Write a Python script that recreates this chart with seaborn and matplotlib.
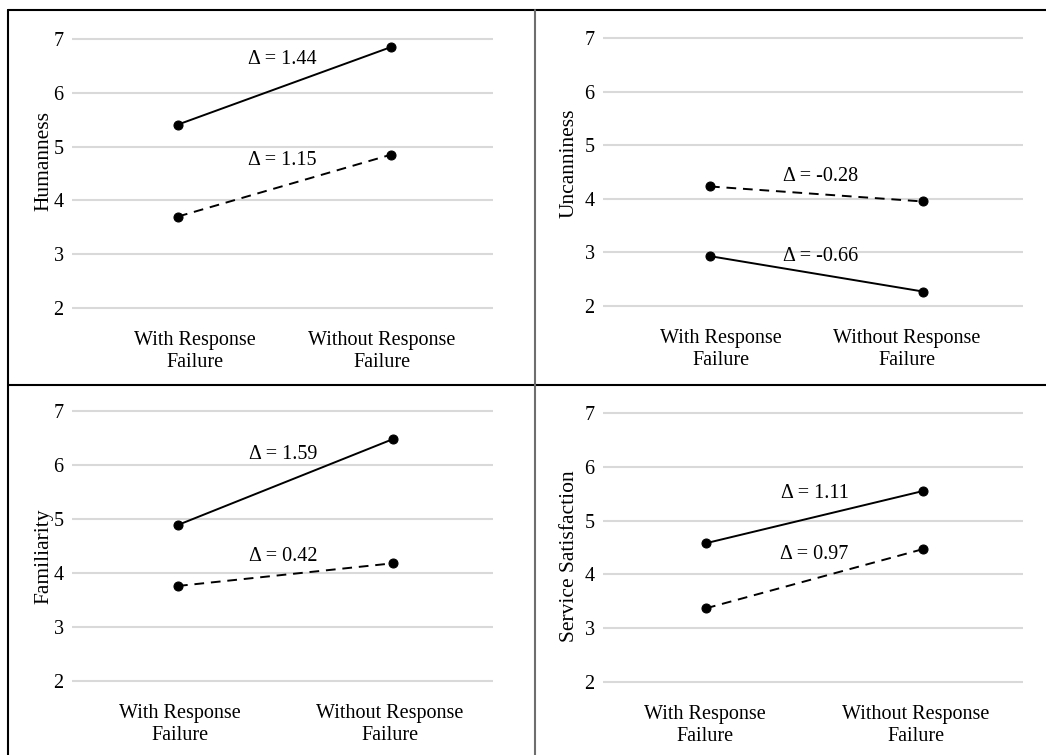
import matplotlib.pyplot as plt
import seaborn as sns
from matplotlib.lines import Line2D

sns.set_style('white', {'text.color': 'black', 'axes.labelcolor': 'black',
                        'xtick.color': 'black', 'ytick.color': 'black'})
plt.rcParams['font.family'] = ['Liberation Serif', 'DejaVu Serif']

# data
categories = ['With Response\nFailure', 'Without Response\nFailure']
measures = ['Humanness', 'Uncanniness', 'Familiarity', 'Service Satisfaction']
solid_vals = [[5.41, 6.85], [2.93, 2.27], [4.89, 6.48], [4.58, 5.55]]
dashed_vals = [[3.70, 4.85], [4.23, 3.95], [3.76, 4.18], [3.37, 4.47]]
solid_labels = ['Δ = 1.44', 'Δ = -0.66', 'Δ = 1.59', 'Δ = 1.11']
dashed_labels = ['Δ = 1.15', 'Δ = -0.28', 'Δ = 0.42', 'Δ = 0.97']
yticks = [2, 3, 4, 5, 6, 7]

# layout (pixels): plot area, gridline 7 / gridline 2, point x, tick label x, ylabel coords
W, H = 1046, 755
layout = [
    dict(left=72, right=493, top=39, bottom=308, pts=(178, 391), ticks=(195, 382), ylab=(-0.045, 0.543)),
    dict(left=603, right=1023, top=38, bottom=306, pts=(710, 923), ticks=(721, 907), ylab=(-0.057, 0.53)),
    dict(left=72, right=493, top=411, bottom=681, pts=(178, 393), ticks=(180, 390), ylab=(-0.045, 0.463)),
    dict(left=603, right=1023, top=413, bottom=682, pts=(706, 923), ticks=(705, 916), ylab=(-0.057, 0.469)),
]
solid_pos = [(0.49, 6.62), (0.52, 2.93), (0.49, 6.2), (0.50, 5.5)]
dashed_pos = [(0.49, 4.74), (0.52, 4.42), (0.49, 4.31), (0.50, 4.37)]

fig = plt.figure(figsize=(W / 100, H / 100), dpi=100)

for i in range(4):
    L = layout[i]
    u = (L['bottom'] - L['top']) / 5
    pad = 0.15 * u
    ax = fig.add_axes([L['left'] / W, 1 - (L['bottom'] + pad) / H,
                       (L['right'] - L['left']) / W, (L['bottom'] - L['top'] + 2 * pad) / H])
    p0, p1 = L['pts']
    ux = p1 - p0
    sns.lineplot(x=[0, 1], y=solid_vals[i], ax=ax, color='black', marker='o',
                 markersize=6.5, linewidth=1.4, markeredgecolor='black')
    sns.lineplot(x=[0, 1], y=dashed_vals[i], ax=ax, color='black', marker='o',
                 markersize=6.5, linewidth=1.4, linestyle=(0, (5, 3.5)), markeredgecolor='black')
    ax.set_ylim(2 - 0.15, 7 + 0.15)
    ax.set_xlim(-(p0 - L['left']) / ux, 1 + (L['right'] - p1) / ux)
    ax.set_yticks(yticks)
    ax.set_xticks([(t - p0) / ux for t in L['ticks']], categories)
    ax.tick_params(axis='x', length=0, pad=11, labelsize=14.5)
    ax.tick_params(axis='y', length=0, pad=6, labelsize=14.5)
    ax.grid(axis='y', color='#d9d9d9', linewidth=1.5)
    ax.set_axisbelow(True)
    sns.despine(ax=ax, left=True, bottom=True)
    ax.set_xlabel('')
    ax.set_ylabel(measures[i], fontsize=15.5)
    ax.yaxis.set_label_coords(*L['ylab'])
    ax.text(*solid_pos[i], solid_labels[i], ha='center', va='center', fontsize=14.5)
    ax.text(*dashed_pos[i], dashed_labels[i], ha='center', va='center', fontsize=14.5)

# table-like frame
def fline(x, y, color='black'):
    fig.add_artist(Line2D([v / W for v in x], [1 - v / H for v in y],
                          transform=fig.transFigure, color=color, linewidth=1.5))

fline((8, W), (10, 10))
fline((8, 8), (10, H))
fline((8, W), (384.5, 384.5))
fline((534.5, 534.5), (10, H), color='#6e6e6e')

fig.savefig('out.png', dpi=100)
